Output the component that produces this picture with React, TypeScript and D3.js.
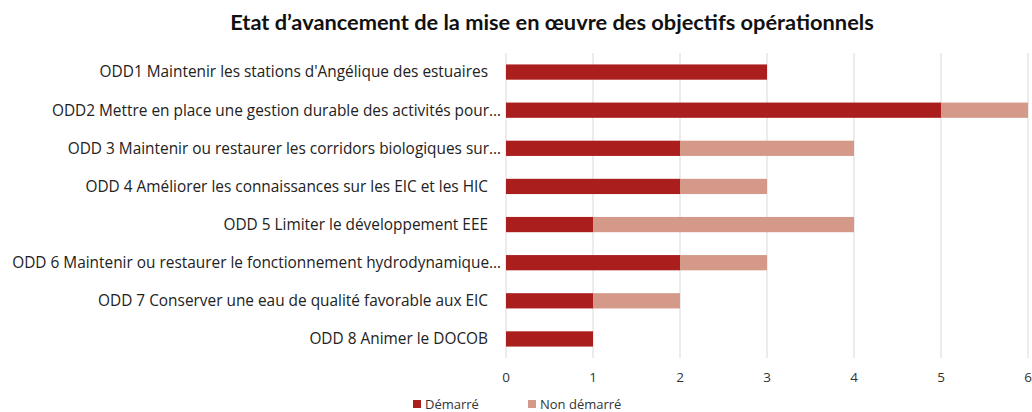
import React from "react";
import * as d3 from "d3";

const width = 1032;
const height = 412;
const margin = { left: 506, right: 4, top: 53, bottom: 54 };

const categories = [
  "ODD1 Maintenir les stations d'Angélique des estuaires",
  "ODD2 Mettre en place une gestion durable des activités pour…",
  "ODD 3 Maintenir ou restaurer les corridors biologiques sur…",
  "ODD 4 Améliorer les connaissances sur les EIC et les HIC",
  "ODD 5 Limiter le développement EEE",
  "ODD 6 Maintenir ou restaurer le fonctionnement hydrodynamique…",
  "ODD 7 Conserver une eau de qualité favorable aux EIC",
  "ODD 8 Animer le DOCOB",
];
const demarre = [3, 5, 2, 2, 1, 2, 1, 1];
const nonDemarre = [0, 1, 2, 1, 3, 1, 1, 0];
const seriesNames = ["Démarré", "Non démarré"];
const colors = ["#ab1e1e", "#d5998a"];
const ticks = [0, 1, 2, 3, 4, 5, 6];

const font = "'Open Sans', Lato, sans-serif";
const titleFont = "Lato, 'Open Sans', sans-serif";

export default function App() {
  const x = d3
    .scaleLinear()
    .domain([0, 6])
    .range([margin.left, width - margin.right]);
  const y = d3
    .scaleBand()
    .domain(categories)
    .range([margin.top, height - margin.bottom])
    .paddingInner(0.6)
    .paddingOuter(0.3);

  const rows = categories.map((c, i) => ({
    cat: c,
    "Démarré": demarre[i],
    "Non démarré": nonDemarre[i],
  }));
  const stacked = d3.stack<any>().keys(seriesNames)(rows);

  return (
    <svg
      width={width}
      height={height}
      style={{ position: "absolute", left: 0, top: 0 }}
    >
      <rect width={width} height={height} fill="#fff" />
      <text
        x={552}
        y={30}
        textAnchor="middle"
        fontFamily={titleFont}
        fontWeight="bold"
        fontSize={21.8}
        fill="#111"
      >
        Etat d’avancement de la mise en œuvre des objectifs opérationnels
      </text>
      {ticks.map((t) => (
        <g key={t}>
          <line
            x1={x(t)}
            x2={x(t)}
            y1={margin.top}
            y2={height - margin.bottom}
            stroke="#d9d9d9"
            strokeWidth={1}
          />
          <text
            x={x(t)}
            y={382}
            textAnchor="middle"
            fontFamily={font}
            fontSize={13.5}
            fill="#333"
          >
            {t}
          </text>
        </g>
      ))}
      {stacked.map((s, si) => (
        <g key={s.key} fill={colors[si]}>
          {s.map((d, i) =>
            d[1] - d[0] > 0 ? (
              <rect
                key={i}
                x={x(d[0])}
                y={y(categories[i])!}
                width={x(d[1]) - x(d[0])}
                height={y.bandwidth()}
              />
            ) : null
          )}
        </g>
      ))}
      {categories.map((c) => (
        <text
          key={c}
          x={c.endsWith("…") ? 501 : 488}
          y={y(c)! + y.bandwidth() / 2}
          dy="0.35em"
          textAnchor="end"
          fontFamily={font}
          fontSize={15.4}
          fill="#222"
        >
          {c}
        </text>
      ))}
      {seriesNames.map((n, i) => {
        const lx = i === 0 ? 413 : 528;
        return (
          <g key={n}>
            <rect x={lx} y={400} width={8} height={8} fill={colors[i]} />
            <text
              x={lx + 12}
              y={408.5}
              fontFamily={font}
              fontSize={13}
              fill="#333"
            >
              {n}
            </text>
          </g>
        );
      })}
    </svg>
  );
}
